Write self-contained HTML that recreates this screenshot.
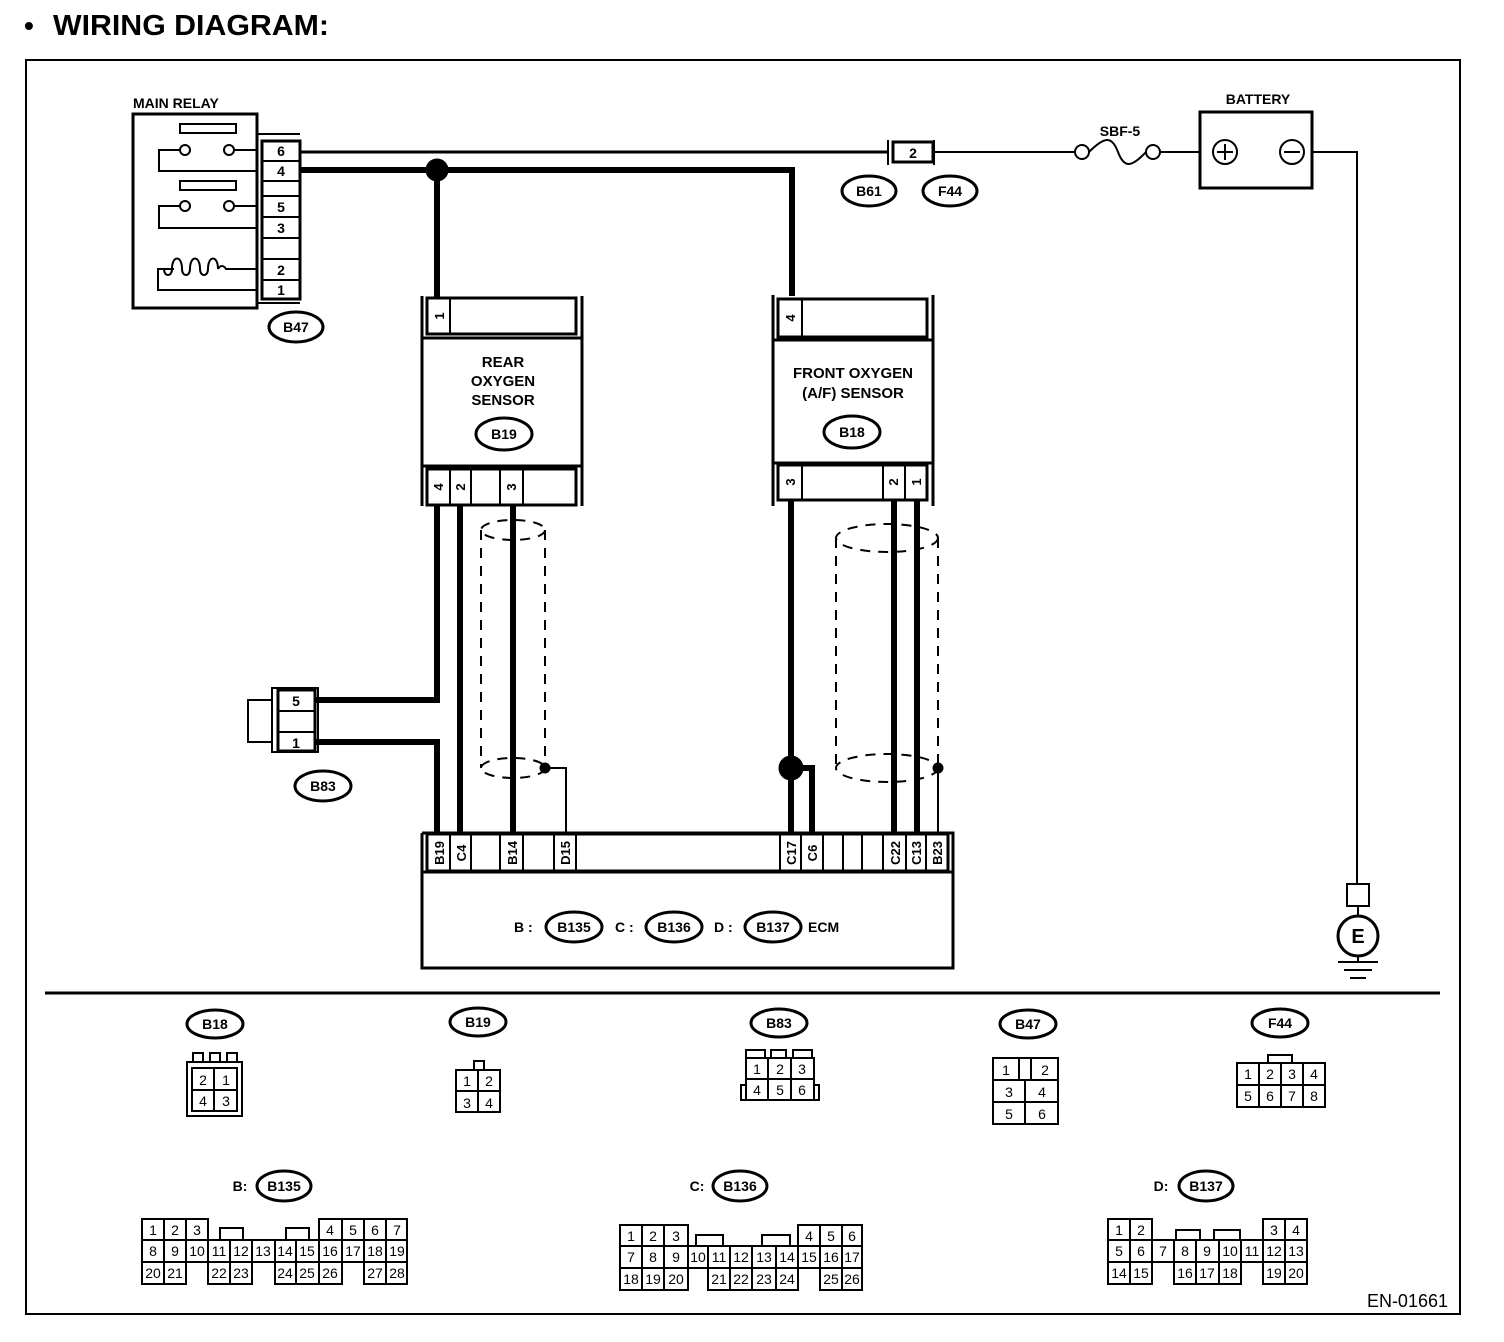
<!DOCTYPE html>
<html><head><meta charset="utf-8"><style>
html,body{margin:0;padding:0;background:#fff;}
svg{display:block;}
text{font-family:"Liberation Sans",Arial,sans-serif;font-weight:bold;fill:#000;}
.n{font-weight:normal;}
</style></head><body>
<svg width="1504" height="1342" viewBox="0 0 1504 1342" xmlns="http://www.w3.org/2000/svg" fill="none" stroke="#000">
<text x="24" y="35" font-size="28" stroke="none">•</text>
<text x="53" y="35" font-size="29" stroke="none" textLength="276" lengthAdjust="spacingAndGlyphs">WIRING DIAGRAM:</text>
<rect x="26" y="60" width="1434" height="1254" stroke-width="2"/>
<line x1="45" y1="993" x2="1440" y2="993" stroke-width="3"/>

<!-- MAIN RELAY -->
<text x="133" y="108" font-size="14" stroke="none">MAIN RELAY</text>
<rect x="133" y="114" width="124" height="194" stroke-width="3"/>
<rect x="180" y="124" width="56" height="9" stroke-width="2"/>
<rect x="180" y="181" width="56" height="9" stroke-width="2"/>
<polyline points="257,150 233,150" stroke-width="2"/><circle cx="229" cy="150" r="5" stroke-width="2"/>
<circle cx="185" cy="150" r="5" stroke-width="2"/><polyline points="180,150 159,150 159,171 257,171" stroke-width="2"/>
<polyline points="257,206 233,206" stroke-width="2"/><circle cx="229" cy="206" r="5" stroke-width="2"/>
<circle cx="185" cy="206" r="5" stroke-width="2"/><polyline points="180,206 159,206 159,228 257,228" stroke-width="2"/>
<path d="M257,269 H226 Q222,263 218,269 M218,269 c0,-14 -10,-14 -10,0 c0,8 -8,8 -8,0 c0,-14 -10,-14 -10,0 c0,8 -8,8 -8,0 c0,-14 -10,-14 -10,0 c0,8 -8,8 -8,0 M174,269 H158 V290 H257" stroke-width="2"/>
<path d="M258,134 H300 M258,303 H300" stroke-width="2"/>
<rect x="262" y="141" width="38" height="158" stroke-width="3"/>
<path d="M262,161 H300 M262,181 H300 M262,196 H300 M262,217 H300 M262,238 H300 M262,259 H300 M262,280 H300" stroke-width="2"/>
<g font-size="14" stroke="none" text-anchor="middle">
<text x="281" y="156">6</text><text x="281" y="176">4</text><text x="281" y="212">5</text><text x="281" y="233">3</text><text x="281" y="275">2</text><text x="281" y="295">1</text>
</g>
<ellipse cx="296" cy="327" rx="27" ry="15" stroke-width="3"/><text x="296" y="332" font-size="14" stroke="none" text-anchor="middle">B47</text>

<!-- wires top -->
<line x1="300" y1="152" x2="888" y2="152" stroke-width="3"/>
<polyline points="300,170 792,170 792,296" stroke-width="6"/>
<circle cx="437" cy="170" r="11" fill="#000"/>
<line x1="437" y1="170" x2="437" y2="298" stroke-width="6"/>

<!-- B61/F44 -->
<path d="M888,140 V165 M934,140 V165" stroke-width="2"/>
<rect x="893" y="142" width="40" height="20" stroke-width="3"/>
<text x="913" y="158" font-size="14" stroke="none" text-anchor="middle">2</text>
<ellipse cx="869" cy="191" rx="27" ry="15" stroke-width="3"/><text x="869" y="196" font-size="14" stroke="none" text-anchor="middle">B61</text>
<ellipse cx="950" cy="191" rx="27" ry="15" stroke-width="3"/><text x="950" y="196" font-size="14" stroke="none" text-anchor="middle">F44</text>
<line x1="934" y1="152" x2="1075" y2="152" stroke-width="2"/>
<text x="1120" y="136" font-size="14" stroke="none" text-anchor="middle">SBF-5</text>
<circle cx="1082" cy="152" r="7" stroke-width="2"/><circle cx="1153" cy="152" r="7" stroke-width="2"/>
<path d="M1089,152 C1105,136 1112,136 1118,152 C1124,168 1131,168 1146,152" stroke-width="2"/>
<line x1="1160" y1="152" x2="1200" y2="152" stroke-width="2"/>
<text x="1258" y="104" font-size="14" stroke="none" text-anchor="middle">BATTERY</text>
<rect x="1200" y="112" width="112" height="76" stroke-width="3"/>
<circle cx="1225" cy="152" r="12" stroke-width="2"/><path d="M1217,152 H1233 M1225,144 V160" stroke-width="2"/>
<circle cx="1292" cy="152" r="12" stroke-width="2"/><path d="M1284,152 H1300" stroke-width="2"/>
<polyline points="1312,152 1357,152 1357,884" stroke-width="2"/>
<rect x="1347" y="884" width="22" height="22" stroke-width="2"/>
<line x1="1358" y1="906" x2="1358" y2="916" stroke-width="2"/>
<circle cx="1358" cy="936" r="20" stroke-width="3"/>
<text x="1358" y="943" font-size="20" stroke="none" text-anchor="middle">E</text>
<path d="M1358,956 V962 M1338,962 H1378 M1344,970 H1372 M1350,978 H1366" stroke-width="2"/>

<!-- REAR O2 -->
<path d="M422,296 V506 M582,296 V506" stroke-width="3"/>
<rect x="427" y="298" width="149" height="36" stroke-width="3"/>
<line x1="450" y1="298" x2="450" y2="334" stroke-width="2"/>
<text transform="translate(444,316) rotate(-90)" font-size="13" stroke="none" text-anchor="middle">1</text>
<rect x="422" y="338" width="160" height="128" stroke-width="3"/>
<g font-size="15" stroke="none" text-anchor="middle"><text x="503" y="367">REAR</text><text x="503" y="386">OXYGEN</text><text x="503" y="405">SENSOR</text></g>
<ellipse cx="504" cy="434" rx="28" ry="16" stroke-width="3"/><text x="504" y="439" font-size="14" stroke="none" text-anchor="middle">B19</text>
<rect x="427" y="469" width="149" height="36" stroke-width="3"/>
<path d="M450,469 V505 M471,469 V505 M500,469 V505 M523,469 V505" stroke-width="2"/>
<g font-size="13" stroke="none" text-anchor="middle">
<text transform="translate(443,487) rotate(-90)">4</text><text transform="translate(465,487) rotate(-90)">2</text><text transform="translate(516,487) rotate(-90)">3</text></g>
<polyline points="437,505 437,700 316,700" stroke-width="6"/>
<polyline points="316,742 437,742 437,833" stroke-width="6"/>
<line x1="460" y1="505" x2="460" y2="833" stroke-width="6"/>
<line x1="513" y1="505" x2="513" y2="833" stroke-width="6"/>
<g stroke-width="2" stroke-dasharray="10,8">
<ellipse cx="513" cy="530" rx="32" ry="10"/><ellipse cx="513" cy="768" rx="32" ry="10"/>
<line x1="481" y1="530" x2="481" y2="768"/><line x1="545" y1="530" x2="545" y2="768"/></g>
<circle cx="545" cy="768" r="5" fill="#000"/>
<polyline points="545,768 566,768 566,833" stroke-width="2"/>

<!-- B83 -->
<rect x="248" y="700" width="24" height="42" stroke-width="2"/>
<rect x="272" y="688" width="46" height="64" stroke-width="2"/>
<rect x="278" y="690" width="37" height="61" stroke-width="3"/>
<path d="M278,711 H315 M278,732 H315" stroke-width="2"/>
<text x="296" y="706" font-size="14" stroke="none" text-anchor="middle">5</text>
<text x="296" y="748" font-size="14" stroke="none" text-anchor="middle">1</text>
<ellipse cx="323" cy="786" rx="28" ry="15" stroke-width="3"/><text x="323" y="791" font-size="14" stroke="none" text-anchor="middle">B83</text>

<!-- FRONT O2 -->
<path d="M773,295 V506 M933,295 V506" stroke-width="3"/>
<rect x="778" y="299" width="149" height="38" stroke-width="3"/>
<line x1="802" y1="299" x2="802" y2="337" stroke-width="2"/>
<text transform="translate(795,318) rotate(-90)" font-size="13" stroke="none" text-anchor="middle">4</text>
<rect x="773" y="340" width="160" height="123" stroke-width="3"/>
<g font-size="15" stroke="none" text-anchor="middle"><text x="853" y="378">FRONT OXYGEN</text><text x="853" y="398">(A/F) SENSOR</text></g>
<ellipse cx="852" cy="432" rx="28" ry="16" stroke-width="3"/><text x="852" y="437" font-size="14" stroke="none" text-anchor="middle">B18</text>
<rect x="778" y="465" width="149" height="35" stroke-width="3"/>
<path d="M802,465 V500 M883,465 V500 M905,465 V500" stroke-width="2"/>
<g font-size="13" stroke="none" text-anchor="middle">
<text transform="translate(795,482) rotate(-90)">3</text><text transform="translate(898,482) rotate(-90)">2</text><text transform="translate(921,482) rotate(-90)">1</text></g>
<line x1="791" y1="500" x2="791" y2="833" stroke-width="6"/>
<circle cx="791" cy="768" r="12" fill="#000"/>
<polyline points="791,768 812,768 812,833" stroke-width="6"/>
<line x1="894" y1="500" x2="894" y2="833" stroke-width="6"/>
<line x1="917" y1="500" x2="917" y2="833" stroke-width="6"/>
<g stroke-width="2" stroke-dasharray="10,8">
<ellipse cx="887" cy="538" rx="51" ry="14"/><ellipse cx="887" cy="768" rx="51" ry="14"/>
<line x1="836" y1="538" x2="836" y2="768"/><line x1="938" y1="538" x2="938" y2="768"/></g>
<circle cx="938" cy="768" r="5" fill="#000"/>
<line x1="938" y1="768" x2="938" y2="833" stroke-width="2"/>

<!-- ECM -->
<path d="M422,833 H953 V872 M422,833 V872" stroke-width="3"/>
<rect x="427" y="834" width="521" height="37" stroke-width="3"/>
<path d="M450,834 V871 M471,834 V871 M500,834 V871 M523,834 V871 M554,834 V871 M576,834 V871 M780,834 V871 M801,834 V871 M823,834 V871 M843,834 V871 M862,834 V871 M883,834 V871 M906,834 V871 M926,834 V871" stroke-width="2"/>
<g font-size="13" stroke="none" text-anchor="middle">
<text transform="translate(444,853) rotate(-90)">B19</text>
<text transform="translate(466,853) rotate(-90)">C4</text>
<text transform="translate(517,853) rotate(-90)">B14</text>
<text transform="translate(570,853) rotate(-90)">D15</text>
<text transform="translate(796,853) rotate(-90)">C17</text>
<text transform="translate(817,853) rotate(-90)">C6</text>
<text transform="translate(900,853) rotate(-90)">C22</text>
<text transform="translate(921,853) rotate(-90)">C13</text>
<text transform="translate(942,853) rotate(-90)">B23</text></g>
<rect x="422" y="872" width="531" height="96" stroke-width="3"/>
<g font-size="14" stroke="none"><text x="514" y="932">B :</text><text x="615" y="932">C :</text><text x="714" y="932">D :</text><text x="808" y="932">ECM</text></g>
<ellipse cx="574" cy="927" rx="28" ry="15" stroke-width="3"/><text x="574" y="932" font-size="14" stroke="none" text-anchor="middle">B135</text>
<ellipse cx="674" cy="927" rx="28" ry="15" stroke-width="3"/><text x="674" y="932" font-size="14" stroke="none" text-anchor="middle">B136</text>
<ellipse cx="773" cy="927" rx="28" ry="15" stroke-width="3"/><text x="773" y="932" font-size="14" stroke="none" text-anchor="middle">B137</text>

<!-- bottom connector labels -->
<g font-size="14" stroke="none" text-anchor="middle">
<text x="215" y="1029">B18</text><text x="478" y="1027">B19</text><text x="779" y="1028">B83</text><text x="1028" y="1029">B47</text><text x="1280" y="1028">F44</text>
<text x="284" y="1191">B135</text><text x="740" y="1191">B136</text><text x="1206" y="1191">B137</text>
<text x="240" y="1191">B:</text><text x="697" y="1191">C:</text><text x="1161" y="1191">D:</text>
</g>
<g stroke-width="3">
<ellipse cx="215" cy="1024" rx="28" ry="14"/><ellipse cx="478" cy="1022" rx="28" ry="14"/><ellipse cx="779" cy="1023" rx="28" ry="14"/><ellipse cx="1028" cy="1024" rx="28" ry="14"/><ellipse cx="1280" cy="1023" rx="28" ry="14"/>
<ellipse cx="284" cy="1186" rx="27" ry="15"/><ellipse cx="740" cy="1186" rx="27" ry="15"/><ellipse cx="1206" cy="1186" rx="27" ry="15"/>
</g>

<!-- B18 connector -->
<g stroke-width="2">
<rect x="187" y="1062" width="55" height="54"/>
<rect x="192" y="1068" width="45" height="43"/>
<path d="M214,1068 V1111 M192,1090 H237"/>
<rect x="193" y="1053" width="10" height="9"/><rect x="210" y="1053" width="10" height="9"/><rect x="227" y="1053" width="10" height="9"/>
</g>
<g font-size="14" class="n" stroke="none" text-anchor="middle"><text class="n" x="203" y="1085">2</text><text class="n" x="226" y="1085">1</text><text class="n" x="203" y="1106">4</text><text class="n" x="226" y="1106">3</text></g>

<!-- B19 connector -->
<g stroke-width="2">
<rect x="456" y="1070" width="44" height="42"/><path d="M478,1070 V1112 M456,1091 H500"/>
<rect x="474" y="1061" width="10" height="9"/>
</g>
<g font-size="14" stroke="none" text-anchor="middle"><text class="n" x="467" y="1086">1</text><text class="n" x="489" y="1086">2</text><text class="n" x="467" y="1108">3</text><text class="n" x="489" y="1108">4</text></g>

<!-- B83 connector -->
<g stroke-width="2">
<rect x="746" y="1058" width="68" height="42"/>
<path d="M746,1079 H814 M768,1058 V1100 M791,1058 V1100"/>
<path d="M746,1058 V1050 H765 V1058 M771,1058 V1050 H786 V1058 M793,1058 V1050 H812 V1058"/>
<path d="M746,1085 H741 V1100 H746 M814,1085 H819 V1100 H814"/>
</g>
<g font-size="14" stroke="none" text-anchor="middle"><text class="n" x="757" y="1074">1</text><text class="n" x="780" y="1074">2</text><text class="n" x="802" y="1074">3</text><text class="n" x="757" y="1095">4</text><text class="n" x="780" y="1095">5</text><text class="n" x="802" y="1095">6</text></g>

<!-- B47 connector -->
<g stroke-width="2">
<rect x="993" y="1058" width="65" height="66"/>
<path d="M993,1080 H1058 M993,1102 H1058 M1025,1080 V1124 M1019,1058 V1080 M1031,1058 V1080"/>
</g>
<g font-size="14" stroke="none" text-anchor="middle"><text class="n" x="1006" y="1075">1</text><text class="n" x="1045" y="1075">2</text><text class="n" x="1009" y="1097">3</text><text class="n" x="1042" y="1097">4</text><text class="n" x="1009" y="1119">5</text><text class="n" x="1042" y="1119">6</text></g>

<!-- F44 connector -->
<g stroke-width="2">
<rect x="1237" y="1063" width="88" height="44"/>
<path d="M1237,1085 H1325 M1259,1063 V1107 M1281,1063 V1107 M1303,1063 V1107"/>
<path d="M1268,1063 V1055 H1292 V1063"/>
</g>
<g font-size="14" stroke="none" text-anchor="middle"><text class="n" x="1248" y="1079">1</text><text class="n" x="1270" y="1079">2</text><text class="n" x="1292" y="1079">3</text><text class="n" x="1314" y="1079">4</text><text class="n" x="1248" y="1101">5</text><text class="n" x="1270" y="1101">6</text><text class="n" x="1292" y="1101">7</text><text class="n" x="1314" y="1101">8</text></g>

<!-- B135 -->
<g stroke-width="2">
<rect x="142" y="1219" width="66" height="21"/><path d="M164,1219 V1240 M186,1219 V1240"/>
<rect x="319" y="1219" width="88" height="21"/><path d="M342,1219 V1240 M364,1219 V1240 M386,1219 V1240"/>
<path d="M220,1240 V1228 H243 V1240 M286,1240 V1228 H309 V1240"/>
<rect x="142" y="1240" width="265" height="22"/>
<path d="M164,1240 V1262 M186,1240 V1262 M208,1240 V1262 M230,1240 V1262 M252,1240 V1262 M275,1240 V1262 M296,1240 V1262 M319,1240 V1262 M342,1240 V1262 M364,1240 V1262 M386,1240 V1262"/>
<rect x="142" y="1262" width="44" height="22"/><path d="M164,1262 V1284"/>
<rect x="208" y="1262" width="44" height="22"/><path d="M230,1262 V1284"/>
<rect x="275" y="1262" width="67" height="22"/><path d="M296,1262 V1284 M319,1262 V1284"/>
<rect x="364" y="1262" width="43" height="22"/><path d="M386,1262 V1284"/>
</g>
<g font-size="14" stroke="none" text-anchor="middle">
<text class="n" x="153" y="1235">1</text><text class="n" x="175" y="1235">2</text><text class="n" x="197" y="1235">3</text><text class="n" x="330" y="1235">4</text><text class="n" x="353" y="1235">5</text><text class="n" x="375" y="1235">6</text><text class="n" x="397" y="1235">7</text>
<text class="n" x="153" y="1256">8</text><text class="n" x="175" y="1256">9</text><text class="n" x="197" y="1256">10</text><text class="n" x="219" y="1256">11</text><text class="n" x="241" y="1256">12</text><text class="n" x="263" y="1256">13</text><text class="n" x="285" y="1256">14</text><text class="n" x="307" y="1256">15</text><text class="n" x="330" y="1256">16</text><text class="n" x="353" y="1256">17</text><text class="n" x="375" y="1256">18</text><text class="n" x="397" y="1256">19</text>
<text class="n" x="153" y="1278">20</text><text class="n" x="175" y="1278">21</text><text class="n" x="219" y="1278">22</text><text class="n" x="241" y="1278">23</text><text class="n" x="285" y="1278">24</text><text class="n" x="307" y="1278">25</text><text class="n" x="330" y="1278">26</text><text class="n" x="375" y="1278">27</text><text class="n" x="397" y="1278">28</text>
</g>

<!-- B136 -->
<g stroke-width="2">
<rect x="620" y="1225" width="68" height="21"/><path d="M642,1225 V1246 M664,1225 V1246"/>
<rect x="798" y="1225" width="64" height="21"/><path d="M820,1225 V1246 M842,1225 V1246"/>
<path d="M696,1246 V1235 H723 V1246 M762,1246 V1235 H790 V1246"/>
<rect x="620" y="1246" width="242" height="22"/>
<path d="M642,1246 V1268 M664,1246 V1268 M688,1246 V1268 M708,1246 V1268 M730,1246 V1268 M752,1246 V1268 M776,1246 V1268 M798,1246 V1268 M820,1246 V1268 M842,1246 V1268"/>
<rect x="620" y="1268" width="68" height="22"/><path d="M642,1268 V1290 M664,1268 V1290"/>
<rect x="708" y="1268" width="90" height="22"/><path d="M730,1268 V1290 M752,1268 V1290 M776,1268 V1290"/>
<rect x="820" y="1268" width="42" height="22"/><path d="M842,1268 V1290"/>
</g>
<g font-size="14" stroke="none" text-anchor="middle">
<text class="n" x="631" y="1241">1</text><text class="n" x="653" y="1241">2</text><text class="n" x="676" y="1241">3</text><text class="n" x="809" y="1241">4</text><text class="n" x="831" y="1241">5</text><text class="n" x="852" y="1241">6</text>
<text class="n" x="631" y="1262">7</text><text class="n" x="653" y="1262">8</text><text class="n" x="676" y="1262">9</text><text class="n" x="698" y="1262">10</text><text class="n" x="719" y="1262">11</text><text class="n" x="741" y="1262">12</text><text class="n" x="764" y="1262">13</text><text class="n" x="787" y="1262">14</text><text class="n" x="809" y="1262">15</text><text class="n" x="831" y="1262">16</text><text class="n" x="852" y="1262">17</text>
<text class="n" x="631" y="1284">18</text><text class="n" x="653" y="1284">19</text><text class="n" x="676" y="1284">20</text><text class="n" x="719" y="1284">21</text><text class="n" x="741" y="1284">22</text><text class="n" x="764" y="1284">23</text><text class="n" x="787" y="1284">24</text><text class="n" x="831" y="1284">25</text><text class="n" x="852" y="1284">26</text>
</g>

<!-- B137 -->
<g stroke-width="2">
<rect x="1108" y="1219" width="44" height="21"/><path d="M1130,1219 V1240"/>
<rect x="1263" y="1219" width="44" height="21"/><path d="M1285,1219 V1240"/>
<path d="M1176,1240 V1230 H1200 V1240 M1214,1240 V1230 H1240 V1240"/>
<rect x="1108" y="1240" width="199" height="22"/>
<path d="M1130,1240 V1262 M1152,1240 V1262 M1174,1240 V1262 M1196,1240 V1262 M1219,1240 V1262 M1241,1240 V1262 M1263,1240 V1262 M1285,1240 V1262"/>
<rect x="1108" y="1262" width="44" height="22"/><path d="M1130,1262 V1284"/>
<rect x="1174" y="1262" width="67" height="22"/><path d="M1196,1262 V1284 M1219,1262 V1284"/>
<rect x="1263" y="1262" width="44" height="22"/><path d="M1285,1262 V1284"/>
</g>
<g font-size="14" stroke="none" text-anchor="middle">
<text class="n" x="1119" y="1235">1</text><text class="n" x="1141" y="1235">2</text><text class="n" x="1274" y="1235">3</text><text class="n" x="1296" y="1235">4</text>
<text class="n" x="1119" y="1256">5</text><text class="n" x="1141" y="1256">6</text><text class="n" x="1163" y="1256">7</text><text class="n" x="1185" y="1256">8</text><text class="n" x="1207" y="1256">9</text><text class="n" x="1230" y="1256">10</text><text class="n" x="1252" y="1256">11</text><text class="n" x="1274" y="1256">12</text><text class="n" x="1296" y="1256">13</text>
<text class="n" x="1119" y="1278">14</text><text class="n" x="1141" y="1278">15</text><text class="n" x="1185" y="1278">16</text><text class="n" x="1207" y="1278">17</text><text class="n" x="1230" y="1278">18</text><text class="n" x="1274" y="1278">19</text><text class="n" x="1296" y="1278">20</text>
</g>

<text class="n" x="1448" y="1307" font-size="18" stroke="none" text-anchor="end">EN-01661</text>
</svg>
</body></html>
